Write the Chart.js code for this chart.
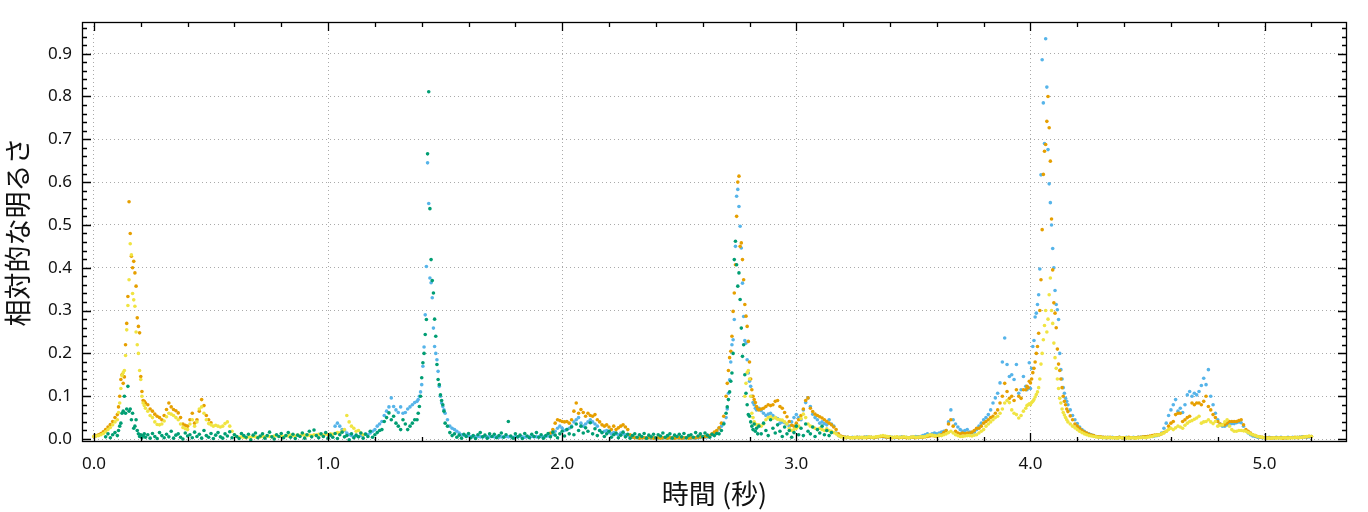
<!DOCTYPE html>
<html>
<head>
<meta charset="utf-8">
<script src="https://cdn.jsdelivr.net/npm/chart.js@4.4.1/dist/chart.umd.min.js"></script>
<style>
  html, body { margin: 0; padding: 0; background: #fff; }
</style>
</head>
<body>
<canvas id="myChart_Brightness" width="1368" height="512"></canvas>
<script>
// each run: [start time (s), sample step (s), relative brightness values]
var greenRuns = [
  [0.05, 0.01, [0.005, 0.012, 0.003, 0.010, 0.015]],
  [0.10, 0.005, [0.008, 0.020, 0.030, 0.037, 0.060, 0.065, 0.100, 0.060, 0.070, 0.123, 0.065, 0.070,
                 0.045, 0.060, 0.025, 0.030, 0.045, 0.020, 0.012, 0.006, 0.010, 0.003, 0.008, 0.012]],
  [0.22, 0.01, [0.004, 0.010, 0.002, 0.013, 0.006, 0.001, 0.015, 0.008, 0.003, 0.011,
                0.005, 0.018, 0.002, 0.009, 0.012, 0.004, 0.000, 0.014, 0.007, 0.010,
                0.003, 0.016, 0.006, 0.011, 0.002, 0.020, 0.008, 0.004, 0.013, 0.001,
                0.009, 0.015, 0.005, 0.002, 0.012, 0.007, 0.017, 0.003, 0.010, 0.006,
                0.001, 0.013, 0.008, 0.004, 0.011, -0.002, 0.009, 0.014, 0.003, 0.007,
                0.012, 0.002, 0.008, 0.016, 0.005, 0.000, 0.010, 0.006, 0.013, 0.003,
                0.008, 0.015, 0.004, 0.011, 0.001, 0.009, 0.006, 0.014, 0.002, 0.010,
                0.018, 0.005, 0.021, 0.008, 0.003, 0.012, 0.006, 0.015, 0.002, 0.009,
                0.004, 0.013, 0.001, 0.010, 0.016, 0.005, 0.008, -0.002, 0.012, 0.003,
                0.009, 0.005, 0.014, 0.002, 0.011, 0.006, 0.018, 0.004, 0.010, 0.015,
                0.020, 0.022, 0.041, 0.050, 0.061, 0.045, 0.053, 0.037, 0.030, 0.022,
                0.045, 0.035, 0.022, 0.030, 0.037, 0.045]],
  [1.38, 0.005, [0.045, 0.060, 0.076, 0.100, 0.143, 0.178, 0.200, 0.244, 0.279, 0.666, 0.811, 0.538,
                 0.419, 0.370, 0.341, 0.280, 0.240, 0.174, 0.139, 0.127, 0.103, 0.090, 0.080, 0.065]],
  [1.50, 0.01, [0.037, 0.030, 0.015, 0.008, 0.012, 0.004, 0.009, 0.002, 0.011, 0.006,
                0.013, 0.003, 0.008, 0.001, 0.010, 0.015, 0.005, 0.009, 0.002, 0.012,
                0.006, 0.011, 0.003, 0.008, 0.014, 0.004, 0.010, 0.041, 0.007, 0.002,
                0.012, 0.005, 0.009, 0.001, 0.013, 0.007, 0.003, 0.011, 0.006, 0.015,
                0.004, 0.010, 0.002, 0.008, 0.013, 0.005, 0.016, 0.009, 0.003, 0.012,
                0.018, 0.007, 0.022, 0.012, 0.028, 0.010, 0.035, 0.020, 0.030, 0.014,
                0.026, 0.018, 0.038, 0.012, 0.024, 0.008, 0.020, 0.015, 0.006, 0.012,
                0.018, 0.004, 0.010, 0.014, 0.003, 0.009, 0.016, 0.005, 0.011, 0.002,
                0.008, 0.012, 0.004, 0.010, 0.006, 0.013, 0.002, 0.009, 0.005, 0.011,
                0.003, 0.010, 0.007, 0.014, 0.004, 0.008, 0.012, 0.002, 0.009, 0.006,
                0.011, 0.005, 0.013, 0.003, 0.008, 0.010, 0.004, 0.015, 0.007, 0.012,
                0.006, 0.014, 0.009, 0.004, 0.011, 0.008, 0.013, 0.012, 0.020, 0.035]],
  [2.70, 0.005, [0.060, 0.075, 0.092, 0.110, 0.135, 0.154, 0.200, 0.419, 0.462, 0.407, 0.357, 0.388, 0.326, 0.259,
                 0.193, 0.220, 0.150, 0.107, 0.080, 0.057, 0.053, 0.040, 0.030, 0.022, 0.035, 0.018, 0.025, 0.012]],
  [2.84, 0.01, [0.030, 0.012, 0.037, 0.020, 0.008, 0.045, 0.025, 0.014, 0.033, 0.018,
                0.006, 0.028, 0.012, 0.020, 0.004, 0.015, 0.030, 0.010, 0.025, 0.008,
                0.035, 0.018, 0.012, 0.028, 0.006, 0.022, 0.014, 0.030, 0.010, 0.020,
                0.008, 0.015]]
];

var yellowRuns = [
  [0.00, 0.01, [0.006, 0.007, 0.008, 0.010, 0.013, 0.017, 0.022, 0.027, 0.033, 0.040]],
  [0.10, 0.005, [0.045, 0.062, 0.084, 0.118, 0.148, 0.155, 0.160, 0.195, 0.255, 0.312, 0.372, 0.456,
                 0.430, 0.340, 0.325, 0.310, 0.250, 0.220, 0.200, 0.160, 0.139, 0.100, 0.084, 0.078]],
  [0.22, 0.01, [0.072, 0.065, 0.055, 0.050, 0.040, 0.034, 0.033, 0.035, 0.042, 0.052,
                0.060, 0.058, 0.055, 0.050, 0.045, 0.035, 0.027, 0.024, 0.022, 0.035,
                0.045, 0.030, 0.040, 0.070, 0.075, 0.060, 0.045, 0.036, 0.033, 0.030,
                0.032, 0.030, 0.028, 0.030, 0.036, 0.040, 0.030, 0.018, 0.010, 0.006,
                0.004, 0.005, 0.004, 0.003, 0.005, 0.004, 0.006, 0.005, 0.004, 0.005,
                0.006, 0.005, 0.007, 0.006, 0.005, 0.007, 0.008, 0.006, 0.007, 0.006,
                0.008, 0.007, 0.009, 0.008, 0.007, 0.009, 0.008, 0.010, 0.009, 0.008,
                0.009, 0.008, 0.010, 0.009, 0.011, 0.010, 0.009, 0.011, 0.010, 0.012,
                0.011, 0.013, 0.015, 0.014, 0.018, 0.022, 0.055, 0.040, 0.030, 0.025,
                0.018, 0.020, 0.014, 0.010]],
  [2.78, 0.005, [0.100, 0.130, 0.155, 0.160, 0.140, 0.100, 0.060, 0.050, 0.040, 0.035, 0.033, 0.032]],
  [2.84, 0.01, [0.033, 0.030, 0.035, 0.045, 0.050, 0.052, 0.048, 0.050, 0.046, 0.045,
                0.044, 0.040, 0.035, 0.025, 0.020, 0.022, 0.025, 0.030, 0.048, 0.058,
                0.050, 0.035, 0.030, 0.028, 0.025, 0.022, 0.025, 0.022, 0.020, 0.024,
                0.020, 0.018, 0.015, 0.012, 0.008, 0.005, 0.004, 0.003, 0.004, 0.003,
                0.003, 0.004, 0.003, 0.004, 0.004, 0.003, 0.004, 0.005, 0.004, 0.004,
                0.005, 0.006, 0.007, 0.008, 0.007, 0.006, 0.005, 0.004, 0.004, 0.005,
                0.004, 0.004, 0.005, 0.004, 0.003, 0.004, 0.005, 0.004, 0.004, 0.005,
                0.005, 0.006, 0.008, 0.010, 0.009, 0.008, 0.007, 0.009, 0.008, 0.010,
                0.012, 0.015, 0.018, 0.014, 0.010, 0.008, 0.006, 0.006, 0.007, 0.008,
                0.008, 0.007, 0.009, 0.010, 0.014, 0.018, 0.022, 0.030, 0.035, 0.040,
                0.045, 0.050, 0.053, 0.060, 0.070, 0.084, 0.090, 0.085, 0.068, 0.060,
                0.057, 0.049, 0.055, 0.065]],
  [3.98, 0.005, [0.072, 0.078, 0.080, 0.082, 0.080, 0.085, 0.088, 0.092, 0.098, 0.104, 0.110, 0.120,
                 0.140, 0.175, 0.200, 0.232, 0.265, 0.300, 0.250, 0.280, 0.337, 0.376, 0.300, 0.270,
                 0.224, 0.190, 0.165, 0.140, 0.118, 0.095, 0.084, 0.070, 0.062, 0.056, 0.050, 0.045]],
  [4.16, 0.01, [0.040, 0.035, 0.030, 0.026, 0.022, 0.018, 0.015, 0.012, 0.010, 0.008,
                0.007, 0.006, 0.005, 0.004, 0.004, 0.003, 0.003, 0.004, 0.003, 0.003,
                0.003, 0.002, 0.003, 0.003, 0.002, 0.003, 0.002, 0.003, 0.003, 0.002,
                0.003, 0.003, 0.004, 0.003, 0.004, 0.005, 0.006, 0.008, 0.009, 0.010,
                0.012, 0.014, 0.018, 0.022, 0.025, 0.022, 0.026, 0.030, 0.028, 0.025,
                0.032, 0.037, 0.041, 0.043, 0.046, 0.049, 0.053, 0.037, 0.040, 0.041,
                0.045, 0.040, 0.036, 0.041, 0.030, 0.032, 0.033, 0.040, 0.045, 0.030,
                0.022, 0.018, 0.018, 0.020, 0.020, 0.019, 0.018, 0.015, 0.012, 0.010,
                0.008, 0.006, 0.005, 0.004, 0.003, 0.002, 0.002, 0.002, 0.003, 0.002,
                0.003, 0.002, 0.003, 0.003, 0.002, 0.003, 0.003, 0.003, 0.004, 0.003,
                0.004, 0.005, 0.006, 0.007, 0.006]]
];

var orangeRuns = [
  [0.00, 0.01, [0.006, 0.008, 0.010, 0.013, 0.017, 0.022, 0.028, 0.034, 0.041, 0.050]],
  [0.10, 0.005, [0.057, 0.075, 0.100, 0.139, 0.150, 0.130, 0.145, 0.220, 0.270, 0.333, 0.554, 0.480,
                 0.427, 0.400, 0.415, 0.388, 0.357, 0.283, 0.263, 0.248, 0.146, 0.111, 0.090, 0.088]],
  [0.22, 0.01, [0.084, 0.080, 0.070, 0.065, 0.058, 0.053, 0.050, 0.045, 0.055, 0.069,
                0.084, 0.075, 0.069, 0.066, 0.061, 0.050, 0.035, 0.032, 0.030, 0.045,
                0.060, 0.037, 0.045, 0.065, 0.092, 0.078, 0.055, 0.045, 0.038]],
  [1.95, 0.01, [0.014, 0.022, 0.037, 0.045, 0.043, 0.041, 0.040, 0.041, 0.037, 0.045,
                0.065, 0.084, 0.060, 0.069, 0.062, 0.053, 0.060, 0.055, 0.053, 0.057,
                0.045, 0.040, 0.033, 0.030, 0.033, 0.028, 0.022, 0.030, 0.022, 0.026,
                0.030, 0.033, 0.028, 0.022, 0.010, 0.005, 0.003, 0.003, 0.002, 0.003,
                0.003, 0.002, 0.003, 0.003, 0.002, 0.003, 0.003, 0.002, 0.003, 0.003,
                0.002, 0.003, 0.003, 0.002, 0.003, 0.003, 0.002, 0.003, 0.003, 0.002,
                0.003, 0.003, 0.003, 0.004, 0.005, 0.005, 0.006, 0.006, 0.008, 0.012,
                0.016, 0.020, 0.026, 0.037, 0.053]],
  [2.70, 0.005, [0.100, 0.130, 0.160, 0.190, 0.205, 0.240, 0.298, 0.341, 0.407, 0.520, 0.600, 0.614, 0.450, 0.458,
                 0.419, 0.372, 0.314, 0.287, 0.263, 0.228, 0.180, 0.140, 0.115, 0.100, 0.092, 0.085, 0.076, 0.070]],
  [2.84, 0.01, [0.068, 0.070, 0.072, 0.076, 0.080, 0.078, 0.080, 0.088, 0.090, 0.076,
                0.072, 0.062, 0.052, 0.041, 0.032, 0.030, 0.037, 0.045, 0.055, 0.070,
                0.090, 0.096, 0.072, 0.064, 0.058, 0.055, 0.052, 0.049, 0.045, 0.041,
                0.037, 0.033, 0.028, 0.022, 0.012, 0.007, 0.005, 0.004, 0.004, 0.003,
                0.003, 0.003, 0.004, 0.003, 0.003, 0.004, 0.003, 0.004, 0.004, 0.003,
                0.004, 0.005, 0.006, 0.006, 0.005, 0.004, 0.004, 0.003, 0.004, 0.004,
                0.003, 0.004, 0.004, 0.003, 0.003, 0.004, 0.004, 0.003, 0.004, 0.004,
                0.004, 0.005, 0.006, 0.007, 0.008, 0.007, 0.006, 0.008, 0.010, 0.015,
                0.020, 0.035, 0.045, 0.030, 0.018, 0.014, 0.012, 0.014, 0.013, 0.014,
                0.014, 0.016, 0.020, 0.025, 0.025, 0.030, 0.037, 0.041, 0.045, 0.050,
                0.053, 0.060, 0.068, 0.084, 0.100, 0.130, 0.111, 0.095, 0.100, 0.090,
                0.115, 0.100, 0.095, 0.115]],
  [3.98, 0.005, [0.115, 0.123, 0.120, 0.135, 0.131, 0.140, 0.155, 0.165, 0.180, 0.200, 0.216, 0.247,
                 0.300, 0.372, 0.489, 0.618, 0.672, 0.688, 0.742, 0.800, 0.727, 0.649, 0.514, 0.395,
                 0.318, 0.294, 0.260, 0.210, 0.175, 0.160, 0.140, 0.120, 0.100, 0.088, 0.080, 0.070]],
  [4.16, 0.01, [0.064, 0.054, 0.045, 0.035, 0.030, 0.025, 0.020, 0.016, 0.014, 0.011,
                0.009, 0.008, 0.006, 0.005, 0.005, 0.004, 0.004, 0.003, 0.004, 0.003,
                0.003, 0.003, 0.004, 0.003, 0.003, 0.003, 0.004, 0.003, 0.003, 0.003,
                0.004, 0.004, 0.005, 0.005, 0.006, 0.007, 0.008, 0.009, 0.010, 0.010,
                0.012, 0.015, 0.018, 0.030, 0.037, 0.041, 0.057, 0.060, 0.060, 0.041,
                0.045, 0.050, 0.053, 0.084, 0.080, 0.084, 0.084, 0.080, 0.088, 0.100,
                0.076, 0.068, 0.057, 0.050, 0.041, 0.035, 0.033, 0.033, 0.037, 0.041,
                0.041, 0.041, 0.041, 0.043, 0.045, 0.033, 0.022, 0.018, 0.014, 0.010,
                0.008, 0.006, 0.005, 0.004, 0.003, 0.003, 0.003, 0.002, 0.003, 0.003,
                0.003, 0.003, 0.002, 0.003, 0.003, 0.003, 0.003, 0.004, 0.003, 0.004,
                0.004, 0.005, 0.005, 0.006, 0.006]]
];

var blueRuns = [
  [1.03, 0.01, [0.030, 0.037, 0.030, 0.022, 0.020, 0.014, 0.010, 0.008, 0.006, 0.007,
                0.006, 0.008, 0.010, 0.012, 0.010, 0.014, 0.018, 0.022, 0.030, 0.035,
                0.041, 0.055, 0.065, 0.075, 0.096, 0.076, 0.068, 0.062, 0.075, 0.060,
                0.062, 0.070, 0.075, 0.080, 0.085]],
  [1.38, 0.005, [0.088, 0.092, 0.100, 0.110, 0.127, 0.170, 0.215, 0.290, 0.403, 0.645, 0.550, 0.376,
                 0.365, 0.330, 0.259, 0.216, 0.200, 0.185, 0.158, 0.123, 0.100, 0.084, 0.076, 0.068]],
  [1.50, 0.01, [0.060, 0.045, 0.030, 0.025, 0.022, 0.018, 0.014, 0.010, 0.009, 0.008,
                0.007, 0.006, 0.006, 0.005, 0.006, 0.005, 0.005, 0.006, 0.005, 0.005,
                0.006, 0.005, 0.005, 0.004, 0.005, 0.005, 0.006, 0.005, 0.005, 0.004,
                0.005, 0.005, 0.006, 0.005, 0.004, 0.005, 0.005, 0.006, 0.005, 0.005,
                0.005, 0.006, 0.005, 0.006, 0.007, 0.008, 0.012, 0.018, 0.025, 0.030,
                0.025, 0.020, 0.022, 0.025, 0.030, 0.040, 0.045, 0.050, 0.037, 0.030,
                0.035, 0.040, 0.045, 0.040, 0.035, 0.030, 0.020, 0.015, 0.018, 0.020,
                0.015, 0.012, 0.015, 0.012, 0.010, 0.014, 0.012, 0.010, 0.008, 0.006,
                0.004, 0.003, 0.003, 0.002, 0.003, 0.003, 0.002, 0.003, 0.002, 0.003,
                0.003, 0.002, 0.003, 0.002, 0.003, 0.002, 0.003, 0.003, 0.002, 0.003,
                0.002, 0.003, 0.002, 0.003, 0.003, 0.002, 0.003, 0.002, 0.003, 0.003,
                0.004, 0.004, 0.005, 0.007, 0.010, 0.014, 0.018, 0.025, 0.030, 0.037]],
  [2.70, 0.005, [0.050, 0.070, 0.107, 0.138, 0.180, 0.220, 0.232, 0.279, 0.450, 0.567, 0.583, 0.543, 0.497, 0.446,
                 0.364, 0.286, 0.230, 0.224, 0.185, 0.154, 0.135, 0.123, 0.100, 0.085, 0.080, 0.072, 0.068, 0.070]],
  [2.84, 0.01, [0.072, 0.066, 0.060, 0.055, 0.058, 0.060, 0.055, 0.050, 0.048, 0.037,
                0.040, 0.038, 0.035, 0.030, 0.040, 0.050, 0.057, 0.050, 0.045, 0.068,
                0.085, 0.096, 0.076, 0.058, 0.050, 0.045, 0.037, 0.040, 0.036, 0.033,
                0.045, 0.035, 0.030, 0.014, 0.008, 0.006, 0.005, 0.004, 0.004, 0.003,
                0.004, 0.003, 0.004, 0.004, 0.003, 0.004, 0.005, 0.004, 0.004, 0.003,
                0.004, 0.005, 0.006, 0.005, 0.005, 0.004, 0.005, 0.004, 0.003, 0.004,
                0.004, 0.005, 0.004, 0.004, 0.003, 0.004, 0.005, 0.006, 0.005, 0.006,
                0.008, 0.010, 0.012, 0.010, 0.012, 0.014, 0.012, 0.014, 0.016, 0.018,
                0.020, 0.040, 0.068, 0.045, 0.035, 0.028, 0.022, 0.018, 0.020, 0.022,
                0.016, 0.014, 0.016, 0.022, 0.030, 0.037, 0.045, 0.050, 0.057, 0.068,
                0.084, 0.096, 0.107, 0.131, 0.180, 0.236, 0.174, 0.146, 0.150, 0.139,
                0.174, 0.107, 0.115, 0.146]],
  [3.98, 0.005, [0.123, 0.115, 0.120, 0.178, 0.118, 0.165, 0.216, 0.230, 0.285, 0.294, 0.314, 0.337,
                 0.397, 0.617, 0.886, 0.785, 0.690, 0.935, 0.822, 0.676, 0.596, 0.552, 0.500, 0.445,
                 0.400, 0.347, 0.314, 0.302, 0.279, 0.200, 0.162, 0.140, 0.120, 0.107, 0.095, 0.088]],
  [4.16, 0.01, [0.080, 0.068, 0.055, 0.045, 0.036, 0.028, 0.022, 0.018, 0.014, 0.012,
                0.010, 0.008, 0.006, 0.005, 0.004, 0.004, 0.003, 0.004, 0.003, 0.004,
                0.003, 0.003, 0.004, 0.003, 0.003, 0.004, 0.003, 0.003, 0.004, 0.003,
                0.004, 0.004, 0.005, 0.005, 0.006, 0.006, 0.006, 0.007, 0.008, 0.010,
                0.014, 0.025, 0.037, 0.055, 0.068, 0.080, 0.092, 0.065, 0.072, 0.062,
                0.080, 0.103, 0.111, 0.100, 0.107, 0.103, 0.111, 0.125, 0.142, 0.127,
                0.162, 0.100, 0.080, 0.060, 0.045, 0.035, 0.030, 0.030, 0.033, 0.036,
                0.036, 0.036, 0.038, 0.040, 0.038, 0.030, 0.020, 0.014, 0.010, 0.007,
                0.006, 0.004, 0.004, 0.003, 0.003, 0.003, 0.004, 0.003, 0.003, 0.004,
                0.003, 0.004, 0.003, 0.003, 0.004, 0.003, 0.004, 0.003, 0.004, 0.004,
                0.005, 0.005, 0.004, 0.005, 0.006]]
];

var xTickValues = [0, 1, 2, 3, 4, 5];
var yTickValues = [0, 0.1, 0.2, 0.3, 0.4, 0.5, 0.6, 0.7, 0.8, 0.9];

function runsToPoints(runs) {
  var pts = [];
  runs.forEach(function (run) {
    run[2].forEach(function (v, i) {
      pts.push({ x: +(run[0] + i * run[1]).toFixed(4), y: v });
    });
  });
  return pts;
}

// inward tick marks on all four sides plus the black frame
var frameTicks = {
  id: "frameTicks",
  afterDatasetsDraw(chart) {
    var ctx = chart.ctx, a = chart.chartArea;
    var xs = chart.scales.x, ys = chart.scales.y;
    ctx.save();
    ctx.strokeStyle = "#000";
    ctx.lineWidth = 1.3;
    ctx.beginPath();
    for (var i = 0; i <= 26; i++) {
      var px = Math.round(xs.getPixelForValue(i * 0.2)) + 0.5;
      var len = i % 5 === 0 ? 9 : 5;
      ctx.moveTo(px, a.bottom); ctx.lineTo(px, a.bottom - len);
      ctx.moveTo(px, a.top); ctx.lineTo(px, a.top + len);
    }
    for (var j = 0; j <= 48; j++) {
      var py = Math.round(ys.getPixelForValue(j * 0.02)) + 0.5;
      var ylen = j % 5 === 0 ? 9 : 5;
      ctx.moveTo(a.left, py); ctx.lineTo(a.left + ylen, py);
      ctx.moveTo(a.right, py); ctx.lineTo(a.right - ylen, py);
    }
    ctx.stroke();
    ctx.strokeRect(a.left + 0.5, a.top + 0.5, a.right - a.left - 1, a.bottom - a.top - 1);
    ctx.restore();
  }
};

var gridStyle = { color: "#aaaaaa", lineWidth: 1, drawTicks: false };
var borderStyle = { display: false, dash: [1, 3] };

window.addEventListener("load", function () {
  var ctx = document.getElementById("myChart_Brightness").getContext("2d");
  Chart.defaults.font.family = "'Noto Sans', 'Noto Sans CJK JP', sans-serif";
  Chart.defaults.color = "#111";

  function ds(label, runs, color) {
    return {
      label: label,
      data: runsToPoints(runs),
      backgroundColor: color,
      borderColor: color,
      pointRadius: 1.8,
      pointBorderWidth: 0,
      showLine: false,
    };
  }

  new Chart(ctx, {
    type: "scatter",
    data: {
      datasets: [
        ds("green", greenRuns, "#009E73"),
        ds("yellow", yellowRuns, "#F0E442"),
        ds("orange", orangeRuns, "#E69F00"),
        ds("blue", blueRuns, "#56B4E9"),
      ],
    },
    options: {
      responsive: false,
      animation: false,
      devicePixelRatio: 1,
      layout: { padding: { top: 22, right: 21, left: 0, bottom: 0 } },
      plugins: { legend: { display: false }, tooltip: { enabled: false } },
      scales: {
        x: {
          type: "linear",
          min: -0.051,
          max: 5.352,
          afterBuildTicks: function (s) { s.ticks = xTickValues.map(function (v) { return { value: v }; }); },
          afterFit: function (s) { s.height = 70; },
          grid: gridStyle,
          border: borderStyle,
          ticks: { padding: 12, font: { size: 17 }, callback: function (v) { return v.toFixed(1); } },
          title: { display: true, text: "時間 (秒)", font: { size: 27, family: "'Noto Sans CJK JP'" }, padding: { top: 0, bottom: 2 }, color: "#111" },
        },
        y: {
          type: "linear",
          min: -0.007,
          max: 0.974,
          afterBuildTicks: function (s) { s.ticks = yTickValues.map(function (v) { return { value: v }; }); },
          afterFit: function (s) { s.width = 82; },
          grid: gridStyle,
          border: borderStyle,
          ticks: { padding: 10, font: { size: 17 }, callback: function (v) { return v.toFixed(1); } },
          title: { display: true, text: "相対的な明るさ", font: { size: 27, family: "'Noto Sans CJK JP'" }, padding: { top: 2, bottom: 0 }, color: "#111" },
        },
      },
    },
    plugins: [frameTicks],
  });
});
</script>
</body>
</html>
